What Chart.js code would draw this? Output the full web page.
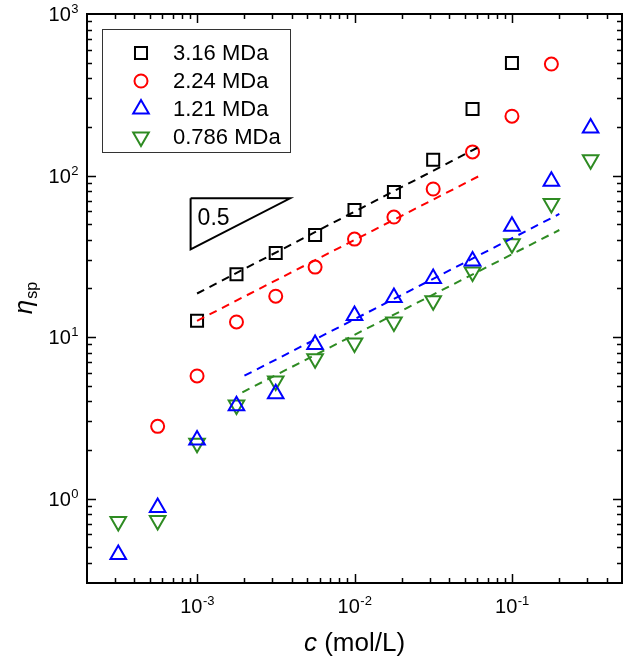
<!DOCTYPE html>
<html>
<head>
<meta charset="utf-8">
<script src="https://cdn.jsdelivr.net/npm/chart.js@4.4.1/dist/chart.umd.min.js"></script>
<style>
  html, body { margin: 0; padding: 0; background: #fff; overflow: hidden; }
  canvas { display: block; }
</style>
</head>
<body>
<canvas id="c" width="633" height="662"></canvas>
<script>
// concentration c (mol/L), shared by all four series
const conc = [3.16e-4, 5.62e-4, 1e-3, 1.78e-3, 3.16e-3, 5.62e-3, 1e-2, 1.78e-2, 3.16e-2, 5.62e-2, 0.1, 0.178, 0.316];

// eta_sp per molecular weight (null = no point)
const eta316 = [null, null, 12.6, 24.5, 33.1, 42.8, 61.1, 79, 125, 258, 497, null, null];
const eta224 = [null, 2.8, 5.74, 12.4, 17.9, 27.1, 40.4, 55.3, 82.5, 140, 233, 490, null];
const eta121 = [0.45, 0.88, 2.3, 3.75, 4.45, 9.0, 13.6, 17.6, 23.0, 29.6, 48.5, 92, 197];
const eta079 = [0.72, 0.73, 2.2, 3.8, 5.35, 7.35, 9.2, 12.4, 16.8, 25.3, 37.8, 67, 125];

const seriesLabels = ['3.16 MDa', '2.24 MDa', '1.21 MDa', '0.786 MDa'];
const seriesColors = ['#000000', '#ff0000', '#0000ff', '#2e8b22'];

// dashed slope-0.5 fits: [x0, x1] and [y0, y1]
const fitX316 = [1e-3, 0.0615], fitY316 = [18.6, 150];
const fitX224 = [1e-3, 0.0615], fitY224 = [12.6, 99];
const fitX121 = [2e-3, 0.2], fitY121 = [5.76, 57.8];
const fitX079 = [1.94e-3, 0.2], fitY079 = [4.55, 46];

// slope triangle
const triX = [9.1e-4, 3.9e-3, 9.1e-4, 9.1e-4];
const triY = [72.3, 72.3, 34.9, 72.3];
const triLabel = '0.5';

// axis ranges
const xRange = [2e-4, 0.5];
const yRange = [0.3, 1000];

const FONT = '"Liberation Sans", Arial, Helvetica, sans-serif';

function pts(xs, ys) {
  const out = [];
  for (let i = 0; i < xs.length; i++) {
    if (ys[i] !== null) out.push({ x: xs[i], y: ys[i] });
  }
  return out;
}

function markerSet(i, data, style, radius, rotation) {
  return {
    label: seriesLabels[i],
    data: pts(conc, data),
    showLine: false,
    pointStyle: style,
    pointRadius: radius,
    pointRotation: rotation || 0,
    pointBorderColor: seriesColors[i],
    pointBackgroundColor: 'rgba(0,0,0,0)',
    pointBorderWidth: 2,
    isMarker: true
  };
}

function fitSet(i, xs, ys) {
  return {
    label: 'fit ' + seriesLabels[i],
    data: pts(xs, ys),
    showLine: true,
    borderColor: seriesColors[i],
    borderWidth: 2,
    borderDash: [8, 6],
    pointRadius: 0
  };
}

function logTicks(scale) {
  const out = [];
  const e0 = Math.floor(Math.log10(scale.min));
  const e1 = Math.ceil(Math.log10(scale.max));
  for (let e = e0; e <= e1; e++) {
    for (let m = 1; m <= 9; m++) {
      const v = m * Math.pow(10, e);
      if (v > scale.min * 1.001 && v < scale.max * 0.999) out.push({ v: v, major: m === 1, e: e });
    }
  }
  return out;
}

function drawPow(ctx, x, y, exp, align) {
  ctx.font = '20px ' + FONT;
  const w1 = ctx.measureText('10').width;
  ctx.font = '13px ' + FONT;
  const w2 = ctx.measureText(String(exp)).width;
  const x0 = align === 'center' ? x - (w1 + w2) / 2 : x - w1 - w2;
  ctx.textAlign = 'left';
  ctx.textBaseline = 'alphabetic';
  ctx.font = '20px ' + FONT;
  ctx.fillText('10', x0, y);
  ctx.font = '13px ' + FONT;
  ctx.fillText(String(exp), x0 + w1 + 0.5, y - 8);
}

// frame, inward ticks on all four sides, labels, titles, legend box
const decorPlugin = {
  id: 'decor',
  afterDraw(chart) {
    const ctx = chart.ctx;
    const a = chart.chartArea;
    const xs = chart.scales.x, ys = chart.scales.y;
    ctx.save();
    ctx.strokeStyle = '#000';
    ctx.fillStyle = '#000';

    // ticks
    ctx.lineWidth = 1.5;
    ctx.beginPath();
    logTicks(xs).forEach(t => {
      const px = Math.round(xs.getPixelForValue(t.v)) + 0.5;
      const len = t.major ? 9 : 5;
      ctx.moveTo(px, a.bottom); ctx.lineTo(px, a.bottom - len);
      ctx.moveTo(px, a.top); ctx.lineTo(px, a.top + len);
    });
    logTicks(ys).forEach(t => {
      const py = Math.round(ys.getPixelForValue(t.v)) + 0.5;
      const len = t.major ? 9 : 5;
      ctx.moveTo(a.left, py); ctx.lineTo(a.left + len, py);
      ctx.moveTo(a.right, py); ctx.lineTo(a.right - len, py);
    });
    ctx.stroke();

    // frame
    ctx.lineWidth = 2;
    ctx.strokeRect(a.left, a.top, a.right - a.left, a.bottom - a.top);

    // tick labels
    logTicks(xs).filter(t => t.major).forEach(t => {
      drawPow(ctx, xs.getPixelForValue(t.v), a.bottom + 30, t.e, 'center');
    });
    const yMajors = logTicks(ys).filter(t => t.major);
    if (Math.abs(ys.max - 1000) < 1e-6) yMajors.push({ v: 1000, major: true, e: 3 });
    yMajors.forEach(t => {
      drawPow(ctx, a.left - 9, ys.getPixelForValue(t.v) + 7, t.e, 'right');
    });

    // x title: c (mol/L)
    ctx.textBaseline = 'alphabetic';
    ctx.textAlign = 'left';
    ctx.font = 'italic 26px ' + FONT;
    const wc = ctx.measureText('c').width;
    ctx.font = '26px ' + FONT;
    const wr = ctx.measureText(' (mol/L)').width;
    const cx = (a.left + a.right) / 2 - (wc + wr) / 2;
    ctx.font = 'italic 26px ' + FONT;
    ctx.fillText('c', cx, 651);
    ctx.font = '26px ' + FONT;
    ctx.fillText(' (mol/L)', cx + wc, 651);

    // y title: eta_sp, rotated
    ctx.save();
    ctx.translate(32, (a.top + a.bottom) / 2);
    ctx.rotate(-Math.PI / 2);
    ctx.font = 'italic 26px ' + FONT;
    const we = ctx.measureText('\u03b7').width;
    ctx.font = '16px ' + FONT;
    const ws = ctx.measureText('sp').width;
    const ex = -(we + ws) / 2;
    ctx.font = 'italic 26px ' + FONT;
    ctx.fillText('\u03b7', ex, 0);
    ctx.font = '16px ' + FONT;
    ctx.fillText('sp', ex + we + 1, 5);
    ctx.restore();

    // slope label
    const tri = chart.getDatasetMeta(chart.data.datasets.length - 1).data;
    ctx.font = '23px ' + FONT;
    ctx.textAlign = 'left';
    ctx.fillText(triLabel, tri[0].x + 7, tri[0].y + 27);

    // legend box
    const bx = a.left + 15, by = a.top + 15, bw = 188, bh = 123;
    ctx.lineWidth = 1;
    ctx.strokeStyle = '#333';
    ctx.strokeRect(bx + 0.5, by + 0.5, bw, bh);
    chart.data.datasets.filter(d => d.isMarker).forEach((d, i) => {
      const ry = by + 24 + i * 28;
      ctx.strokeStyle = d.pointBorderColor;
      ctx.fillStyle = 'rgba(0,0,0,0)';
      ctx.lineWidth = 2;
      Chart.helpers.drawPoint(ctx, {
        pointStyle: d.pointStyle,
        radius: d.pointRadius,
        rotation: d.pointRotation,
        borderWidth: 2
      }, bx + 39, ry);
      ctx.fillStyle = '#000';
      ctx.font = '22px ' + FONT;
      ctx.textBaseline = 'middle';
      ctx.fillText(d.label, bx + 71, ry + 1);
    });
    ctx.restore();
  }
};

new Chart(document.getElementById('c'), {
  type: 'scatter',
  data: {
    datasets: [
      fitSet(0, fitX316, fitY316),
      fitSet(1, fitX224, fitY224),
      fitSet(2, fitX121, fitY121),
      fitSet(3, fitX079, fitY079),
      markerSet(0, eta316, 'rect', 8.5),
      markerSet(1, eta224, 'circle', 6.5),
      markerSet(2, eta121, 'triangle', 9),
      markerSet(3, eta079, 'triangle', 9, 180),
      {
        label: 'slope',
        data: pts(triX, triY),
        showLine: true,
        borderColor: '#000',
        borderWidth: 2,
        pointRadius: 0
      }
    ]
  },
  options: {
    responsive: false,
    animation: false,
    layout: { padding: { top: 14, right: 4, left: 0, bottom: 0 } },
    plugins: {
      legend: { display: false },
      tooltip: { enabled: false }
    },
    scales: {
      x: {
        type: 'logarithmic',
        min: xRange[0],
        max: xRange[1],
        grid: { display: false },
        border: { display: false },
        ticks: { display: false },
        afterFit(scale) { scale.height = 79; }
      },
      y: {
        type: 'logarithmic',
        min: yRange[0],
        max: yRange[1],
        grid: { display: false },
        border: { display: false },
        ticks: { display: false },
        afterFit(scale) { scale.width = 87; }
      }
    }
  },
  plugins: [decorPlugin]
});
</script>
</body>
</html>
